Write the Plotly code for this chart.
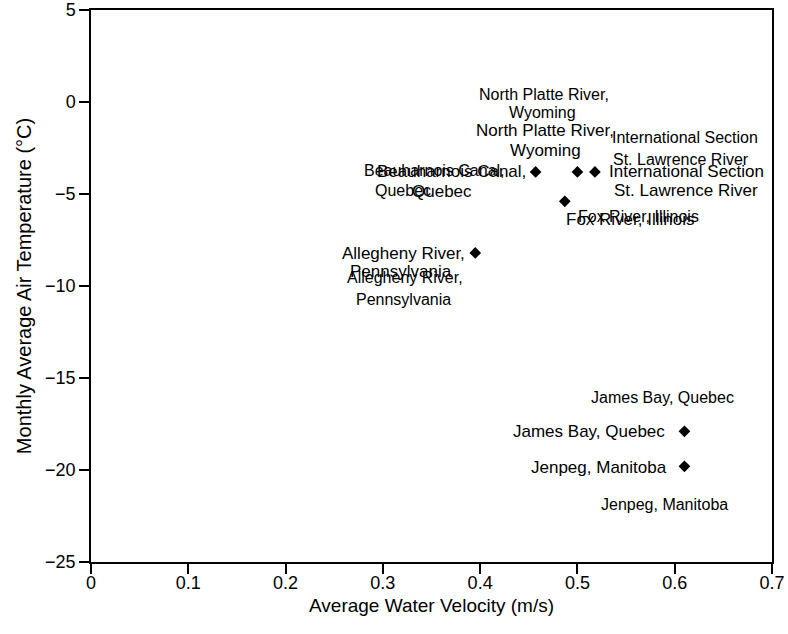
import plotly.graph_objects as go

# ---- data ----
sites = ["Beauharnois Canal, Quebec", "North Platte River, Wyoming",
         "International Section St. Lawrence River", "Fox River, Illinois",
         "Allegheny River, Pennsylvania", "James Bay, Quebec", "Jenpeg, Manitoba"]
velocity = [0.457, 0.500, 0.518, 0.487, 0.395, 0.610, 0.610]
air_temp = [-3.8, -3.8, -3.8, -5.4, -8.2, -17.9, -19.8]

x_ticks = [0, 0.1, 0.2, 0.3, 0.4, 0.5, 0.6, 0.7]
x_tick_text = ["0", "0.1", "0.2", "0.3", "0.4", "0.5", "0.6", "0.7"]
y_ticks = [-25, -20, -15, -10, -5, 0, 5]

# label lines per site (two overlapping label sets, as in the reference)
label_lines_b = [
    ["Beauharnois Canal,", "Quebec"],
    ["North Platte River,", "Wyoming"],
    ["International Section", "St. Lawrence River"],
    ["Fox River, Illinois"],
    ["Allegheny River,", "Pennsylvania"],
    ["James Bay, Quebec"],
    ["Jenpeg, Manitoba"],
]
label_lines_a = label_lines_b

# ---- layout of labels (pixel offsets from each point) ----
offsets_b = [
    [(-84, 0), (-94, -20)],
    [(-32, 41), (-32, 21)],
    [(92, 0), (91, -19)],
    [(65, -18)],
    [(-72, -1), (-74, -19)],
    [(-95, 0)],
    [(-85, -1)],
]
offsets_a = [
    [(-101, 1), (-133, -19)],
    [(-33, 77), (-35, 59)],
    [(90, 34), (86, 12)],
    [(74, -15)],
    [(-70, -25), (-72, -47)],
    [(-22, 34)],
    [(-20, -38)],
]

FONT = "Liberation Sans, Arial, Helvetica, sans-serif"

fig = go.Figure()
fig.add_trace(go.Scatter(
    x=velocity, y=air_temp, mode="markers", text=sites, hoverinfo="text",
    marker=dict(symbol="diamond", size=9, color="black"),
    showlegend=False,
))

annotations = []
for lines_set, offs_set, size in ((label_lines_b, offsets_b, 17), (label_lines_a, offsets_a, 16)):
    for i, lines in enumerate(lines_set):
        for line, (dx, dy) in zip(lines, offs_set[i]):
            annotations.append(dict(
                x=velocity[i], y=air_temp[i], xref="x", yref="y",
                text=line, showarrow=False, xanchor="center", yanchor="middle",
                xshift=dx, yshift=dy,
                font=dict(family=FONT, size=size, color="black"),
            ))

axis_common = dict(
    showline=True, linecolor="black", linewidth=1.5, mirror=True,
    ticks="outside", ticklen=10, tickwidth=1.5, tickcolor="black",
    showgrid=False, zeroline=False,
    tickfont=dict(family=FONT, size=18, color="black"),
)

fig.update_layout(
    width=788, height=634,
    margin=dict(l=91, r=16, t=10, b=72, autoexpand=False),
    paper_bgcolor="white", plot_bgcolor="white",
    font=dict(family=FONT, color="black"),
    annotations=annotations,
    xaxis=dict(range=[0, 0.7], tickvals=x_ticks, ticktext=x_tick_text,
               ticklabelstandoff=-6,
               title=dict(text="Average Water Velocity (m/s)",
                          font=dict(family=FONT, size=19, color="black"), standoff=6),
               **axis_common),
    yaxis=dict(range=[-25, 5], tickvals=y_ticks,
               title=dict(text="Monthly Average Air Temperature (°C)",
                          font=dict(family=FONT, size=20, color="black"), standoff=8),
               **axis_common),
)

fig.write_html("out.html", config={"displayModeBar": False},
               post_script="document.body.style.margin='0';")
